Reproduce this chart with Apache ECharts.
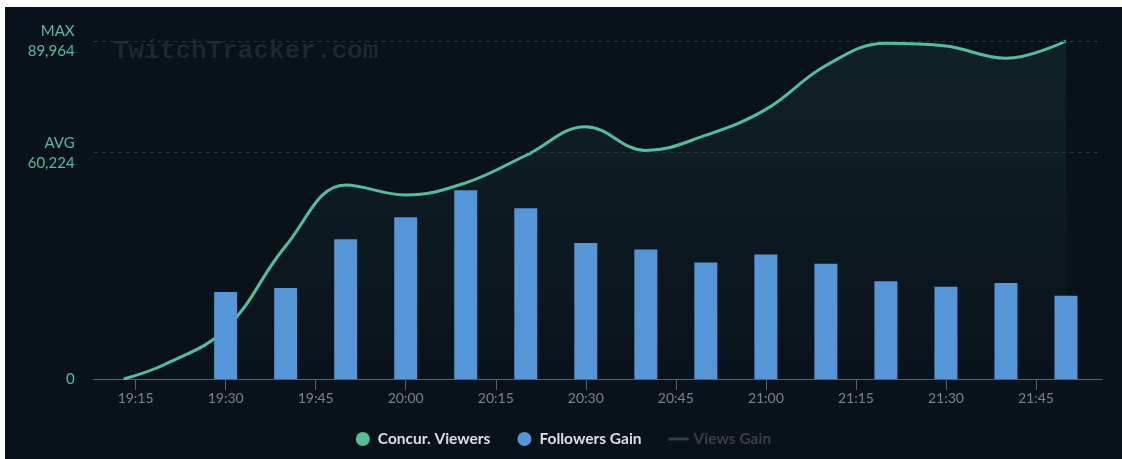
<!DOCTYPE html>
<html>
<head>
<meta charset="utf-8">
<script src="https://cdn.jsdelivr.net/npm/echarts@6/dist/echarts.min.js"></script>
<style>
  html, body { margin: 0; padding: 0; background: #ffffff; width: 1122px; height: 459px; overflow: hidden; }
  #chart { position: absolute; left: 5px; top: 7px; width: 1117px; height: 452px; background: #09111b; }
</style>
</head>
<body>
<div id="chart"></div>
<script>
// ---- data ----
const tickLabels = ['19:15','19:30','19:45','20:00','20:15','20:30','20:45','21:00','21:15','21:30','21:45'];
const viewerTimes = ['19:13','19:20','19:30','19:40','19:50','20:00','20:10','20:20','20:30','20:40','20:50','21:00','21:10','21:20','21:30','21:40','21:50'];
const viewers = [0, 3990, 13310, 35400, 51640, 48975, 52220, 59490, 67150, 60820, 64890, 71760, 83440, 89350, 88630, 85360, 89964];
const followerTimes = ['19:30','19:40','19:50','20:00','20:10','20:20','20:30','20:40','20:50','21:00','21:10','21:20','21:30','21:40','21:50'];
const followersGain = [515, 538, 827, 957, 1117, 1010, 805, 767, 690, 736, 682, 578, 546, 568, 493];
const viewsGain = [];
const avgViewers = 60224;
const maxViewers = 89964;
const axisStart = '19:08';
const axisEnd = '21:56';
const followersAxisMax = 2000;

// ---- helpers ----
function toMin(t) { const p = t.split(':'); return (+p[0]) * 60 + (+p[1]); }
function fmtTime(m) { const h = Math.floor(m / 60), mm = Math.round(m - h * 60); return h + ':' + (mm < 10 ? '0' : '') + mm; }
function fmtNum(v) { return v.toString().replace(/\B(?=(\d{3})+(?!\d))/g, ','); }
const tickValues = tickLabels.map(toMin);

const chart = echarts.init(document.getElementById('chart'), null, { renderer: 'canvas' });
const teal = '#52bf9b';
const option = {
  animation: false,
  backgroundColor: '#09111b',
  grid: { left: 88.6, right: 20, top: 34, bottom: 80, containLabel: false },
  graphic: [{
    type: 'text', x: 108, y: 44, silent: true,
    style: { text: 'TwitchTracker.com', font: 'bold 26px "Liberation Mono", monospace', fill: '#1e2630', verticalAlign: 'middle', align: 'left' }
  }],
  legend: {
    top: 424, left: 'center', padding: 0,
    itemWidth: 20, itemHeight: 14, itemGap: 27,
    textStyle: { color: '#dcdfe3', fontFamily: 'Lato', fontSize: 15.5, fontWeight: 'bold' },
    inactiveColor: '#3a3f46',
    selected: { 'Views Gain': false },
    data: [
      { name: 'Concur. Viewers', icon: 'circle' },
      { name: 'Followers Gain', icon: 'circle' },
      { name: 'Views Gain', icon: 'path://M0,0h20v3h-20z' }
    ]
  },
  xAxis: {
    type: 'value', min: toMin(axisStart), max: toMin(axisEnd),
    axisLine: { show: true, lineStyle: { color: '#5b6169', width: 1 } },
    axisTick: { show: true, length: 11, customValues: tickValues, lineStyle: { color: '#5b6169' } },
    axisLabel: { customValues: tickValues, formatter: v => fmtTime(v), color: '#7d838b', fontFamily: 'Lato', fontSize: 14, margin: 12 },
    splitLine: { show: false }
  },
  yAxis: [{
    type: 'value', min: 0, max: maxViewers,
    axisLine: { show: false }, axisTick: { show: false }, splitLine: { show: false },
    axisLabel: {
      customValues: [0, avgViewers, maxViewers],
      showMinLabel: true, showMaxLabel: true,
      formatter: v => v === maxViewers ? 'MAX\n' + fmtNum(v) : (v === avgViewers ? 'AVG\n' + fmtNum(v) : fmtNum(v)),
      color: teal, fontFamily: 'Lato', fontSize: 15, lineHeight: 20, margin: 19, align: 'right'
    }
  }, {
    type: 'value', min: 0, max: followersAxisMax, show: false
  }],
  series: [{
    name: 'Concur. Viewers', type: 'line', z: 2,
    data: viewerTimes.map((t, i) => [toMin(t), viewers[i]]),
    smooth: 0.4, showSymbol: false, symbol: 'circle',
    lineStyle: { width: 3, color: teal }, itemStyle: { color: teal },
    areaStyle: {
      color: new echarts.graphic.LinearGradient(0, 0, 0, 1, [
        { offset: 0, color: 'rgba(82,191,155,0.13)' },
        { offset: 1, color: 'rgba(82,191,155,0.01)' }
      ])
    },
    markLine: {
      silent: true, symbol: 'none', label: { show: false },
      lineStyle: { color: '#2b333d', type: [4, 4], width: 1 },
      data: [{ yAxis: avgViewers }, { yAxis: maxViewers }]
    }
  }, {
    name: 'Followers Gain', type: 'bar', yAxisIndex: 1, z: 3,
    data: followerTimes.map((t, i) => [toMin(t), followersGain[i]]),
    barWidth: 23,
    itemStyle: { color: '#5596d8' }
  }, {
    name: 'Views Gain', type: 'line', data: viewsGain,
    itemStyle: { color: '#5b6169' }, lineStyle: { color: '#5b6169' }
  }]
};
chart.setOption(option);
</script>
</body>
</html>
